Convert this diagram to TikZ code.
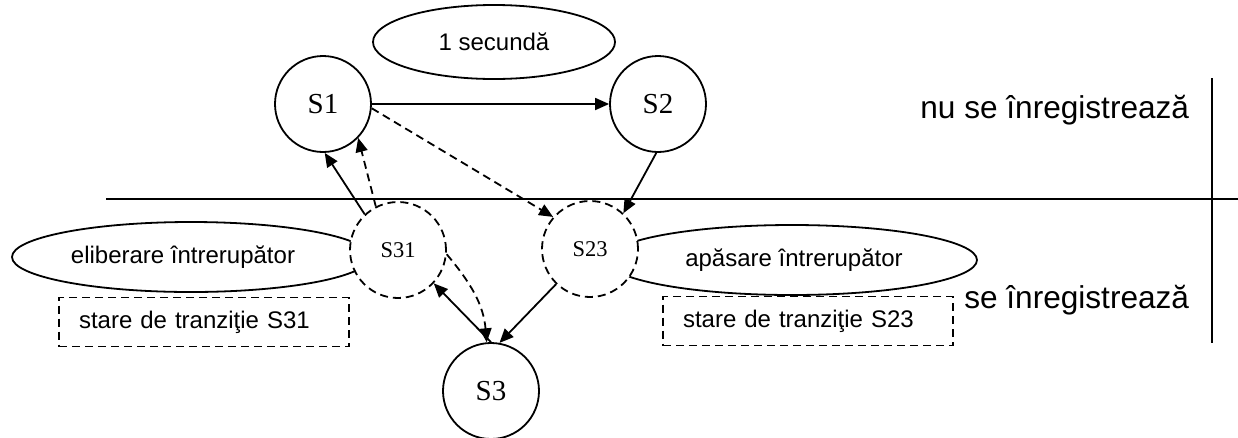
\documentclass[tikz,border=0pt]{standalone}
\usepackage{fontspec}
\setmainfont{Liberation Serif}
\newfontfamily\arialf{Liberation Sans}
\usetikzlibrary{shapes.geometric,arrows.meta}
\begin{document}
\begin{tikzpicture}[x=1pt,y=-1pt,line width=1.8pt,
  dsh/.style={dash pattern=on 8pt off 5pt},
  state/.style={circle,draw,fill=white,minimum size=96pt,inner sep=0pt,font=\fontsize{29}{32}\selectfont},
  tstate/.style={circle,draw,dsh,fill=white,minimum size=96pt,inner sep=0pt,font=\fontsize{22.5}{26}\selectfont},
  lbl/.style={ellipse,draw,inner sep=0pt,font=\arialf\fontsize{24}{28}\selectfont},
  trbox/.style={draw,dsh,text width=250pt,inner xsep=20pt,inner ysep=0pt,minimum height=49pt,align=left,font=\arialf\fontsize{24}{28}\selectfont},
  big/.style={font=\arialf\fontsize{31.6}{36}\selectfont,inner sep=0pt},
  arr/.style={-{Triangle[length=14pt,width=12pt]}}]
\useasboundingbox (0,0) rectangle (1238,437);
% labels
\node[lbl,minimum width=242pt,minimum height=74pt] (sec) at (494,42) {1 secundă};
\node[lbl,minimum width=358pt,minimum height=70pt] (elib) at (191,257) {\hspace*{-16pt}eliberare întrerupător};
\node[lbl,minimum width=370pt,minimum height=70pt] (apas) at (792,260) {\hspace*{4pt}apăsare întrerupător};
\node[trbox] (t31) at (204,322) {stare de tranziţie S31};
\node[trbox] (t23) at (808,321) {stare de tranziţie S23};
% separator lines
\coordinate (hl) at (106,199);
\coordinate (hr) at (1238,199);
\coordinate (vt) at (1212,78);
\coordinate (vb) at (1212,343);
\draw (hl) -- (hr);
\draw (vt) -- (vb);
\node[big,anchor=east] (nu) at (1190,110) {nu se înregistrează};
\node[big,anchor=east] (se) at (1190,300) {se înregistrează};
% states
\node[state] (s1) at (323,104) {S1};
\node[state] (s2) at (658,104) {S2};
\node[tstate] (s31) at (398,250) {S31};
\node[tstate] (s23) at (590,249) {S23};
\node[state] (s3) at (491,391) {S3};
% transitions
\draw[arr] (s1.east) -- (s2.west);
\draw[arr,dsh] (s1.-5) -- (s23.139);
\draw[arr] (s2.-92) -- (s23.47);
\draw[arr] (s31.133) -- (s1.-88);
\draw[arr,dsh] (s31.117) -- (s1.-44);
\draw[arr] (s3.north) -- (s31.-43);
\draw[arr] (s23.-134) -- (s3.80);
\draw[arr,dsh] (s31.-5) to[out=-50,in=95] (s3.95);
\end{tikzpicture}
\end{document}
